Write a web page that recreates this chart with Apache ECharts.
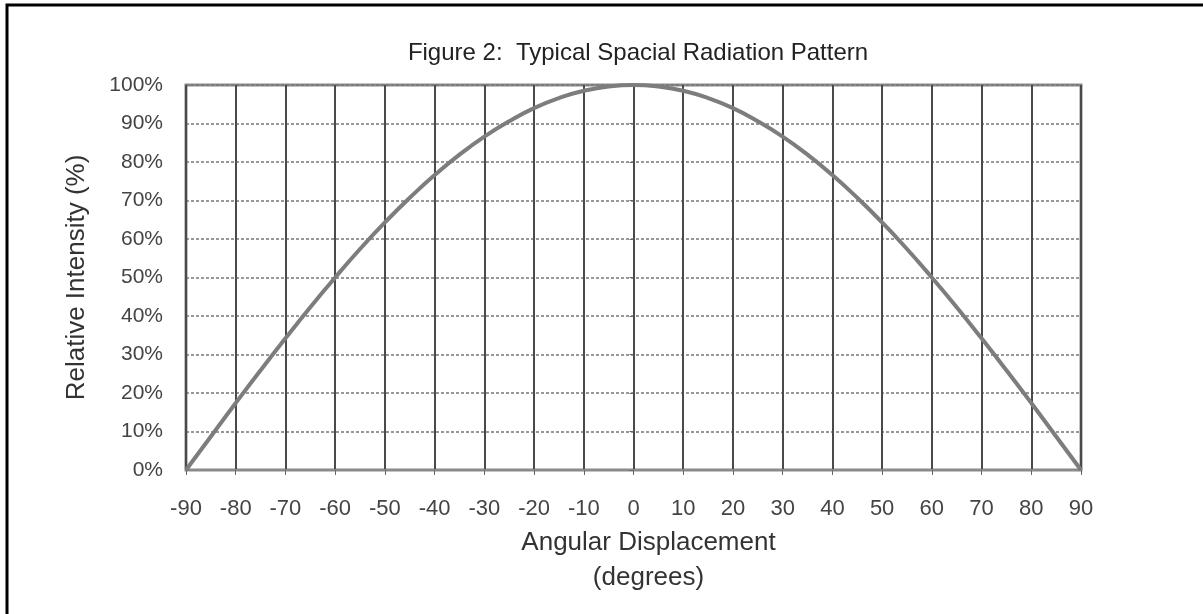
<!DOCTYPE html>
<html>
<head>
<meta charset="utf-8">
<script src="https://cdn.jsdelivr.net/npm/echarts@6/dist/echarts.min.js"></script>
<style>
  html, body { margin: 0; padding: 0; background: #fff; }
  #chart { width: 1203px; height: 614px; }
</style>
</head>
<body>
<div id="chart"></div>
<script>
// angle in degrees, every 5 degrees
var angles = [-90, -85, -80, -75, -70, -65, -60, -55, -50, -45, -40, -35, -30, -25, -20, -15, -10, -5,
              0, 5, 10, 15, 20, 25, 30, 35, 40, 45, 50, 55, 60, 65, 70, 75, 80, 85, 90];
// relative intensity in percent
var intensity = [0, 8.7, 17.4, 25.9, 34.2, 42.3, 50, 57.4, 64.3, 70.7, 76.6, 81.9, 86.6, 90.6, 94, 96.6, 98.5, 99.6,
                 100, 99.6, 98.5, 96.6, 94, 90.6, 86.6, 81.9, 76.6, 70.7, 64.3, 57.4, 50, 42.3, 34.2, 25.9, 17.4, 8.7, 0];

var font = 'Liberation Sans, Arial, sans-serif';
var chart = echarts.init(document.getElementById('chart'));

var points = angles.map(function (a, i) { return [a, intensity[i]]; });

option = {
    backgroundColor: '#fff',
    animation: false,
    title: {
        text: 'Figure 2:  Typical Spacial Radiation Pattern',
        left: 633,
        top: 36,
        textAlign: 'center',
        textStyle: { fontFamily: font, fontSize: 24, fontWeight: 'normal', color: '#222' }
    },
    graphic: [{
        type: 'rect',
        shape: { x: 7, y: 5, width: 1400, height: 800 },
        style: { fill: 'none', stroke: '#000', lineWidth: 3 },
        silent: true
    }],
    grid: {
        left: 186, top: 85, right: 122, bottom: 144,
        show: true,
        borderColor: '#8a8a8a',
        borderWidth: 3
    },
    xAxis: {
        type: 'value',
        min: -90, max: 90, interval: 10,
        name: 'Angular Displacement\n(degrees)',
        nameLocation: 'middle',
        nameGap: 47,
        nameTextStyle: { fontFamily: font, fontSize: 26, color: '#333', lineHeight: 35, padding: [0, 0, 0, 30] },
        axisLine: { show: true, lineStyle: { color: '#8a8a8a', width: 2 } },
        axisTick: { show: true, length: 5, lineStyle: { color: '#666' } },
        axisLabel: { fontFamily: font, fontSize: 22, color: '#444', margin: 28 },
        splitLine: { show: true, lineStyle: { color: '#4a4a4a', width: 2 } }
    },
    yAxis: {
        type: 'value',
        min: 0, max: 100, interval: 10,
        name: 'Relative Intensity (%)',
        nameLocation: 'middle',
        nameGap: 96,
        nameTextStyle: { fontFamily: font, fontSize: 26, color: '#333' },
        axisLine: { show: true, lineStyle: { color: '#4a4a4a', width: 2 } },
        axisTick: { show: true, length: 4, lineStyle: { color: '#666' } },
        axisLabel: { fontFamily: font, fontSize: 21, color: '#444', margin: 23, formatter: '{value}%' },
        splitLine: { show: true, lineStyle: { color: '#777', width: 1.5, type: [3, 2] } }
    },
    series: [{
        type: 'line',
        data: points,
        smooth: true,
        symbol: 'none',
        lineStyle: { color: '#7d7d7d', width: 4 }
    }]
};

chart.setOption(option);
</script>
</body>
</html>
